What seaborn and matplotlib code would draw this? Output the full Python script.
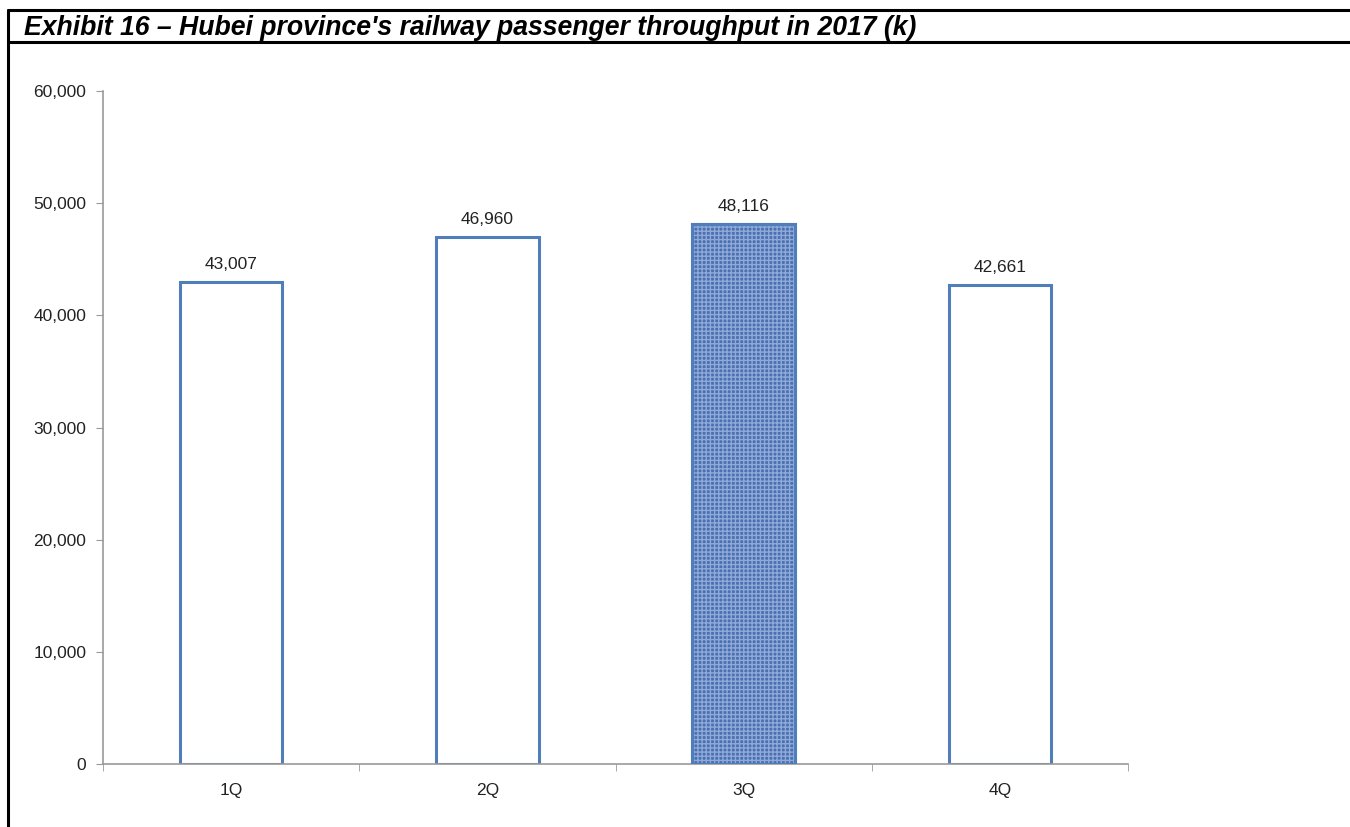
import matplotlib
matplotlib.use("Agg")
from matplotlib import pyplot as plt
from matplotlib.lines import Line2D
import seaborn as sns
import pandas as pd

# Data
quarters = ["1Q", "2Q", "3Q", "4Q"]
throughput = [43007, 46960, 48116, 42661]
highlight = "3Q"

sns.set_style("white")
plt.rcParams['font.family'] = ['Liberation Sans', 'DejaVu Sans']

df = pd.DataFrame({"quarter": quarters, "value": throughput})

fig = plt.figure(figsize=(13.5, 8.27), dpi=100)
ax = fig.add_axes([103 / 1350, 1 - 764 / 827, (1128 - 103) / 1350, (764 - 91) / 827])

blue = "#4F7EBA"
sns.barplot(data=df, x="quarter", y="value", ax=ax, width=0.4,
            color="white", edgecolor=blue, linewidth=2.2)

# textured fill on highlighted bar
hl = df[df["quarter"] == highlight]
ax.bar(quarters.index(highlight), hl["value"], width=0.4, color="#4A70B0",
       edgecolor="#8FA9D9", hatch="++++", linewidth=0, zorder=3)
ax.bar(quarters.index(highlight), hl["value"], width=0.4, fill=False,
       edgecolor=blue, linewidth=2.2, zorder=4)

for i, v in enumerate(throughput):
    ax.text(i, v + 900, f"{v:,}", ha="center", va="bottom", fontsize=12.5, color="#222222")

ax.set_ylim(0, 60000)
ax.set_xlim(-0.5, 3.5)
ax.set_yticks(range(0, 60001, 10000))
ax.set_yticklabels([f"{t:,}" for t in range(0, 60001, 10000)])
ax.set_xlabel("")
ax.set_ylabel("")

for s in ["top", "right"]:
    ax.spines[s].set_visible(False)
for s in ["left", "bottom"]:
    ax.spines[s].set_color("#999999")
    ax.spines[s].set_linewidth(1.2)

ax.tick_params(axis="y", left=True, length=5, color="#999999", labelsize=12.5,
               labelcolor="#222222", pad=7)
ax.tick_params(axis="x", bottom=False, labelsize=12.5, labelcolor="#222222", pad=10)
ax.set_xticks([-0.5, 0.5, 1.5, 2.5, 3.5], minor=True)
ax.tick_params(axis="x", which="minor", bottom=True, length=5, color="#999999")

# frame and title
fig.text(24 / 1350, 1 - 35 / 827, "Exhibit 16 \u2013 Hubei province's railway passenger throughput in 2017 (k)",
         fontsize=19.2, fontweight="bold", fontstyle="italic", va="baseline", ha="left",
         color="black")
lw = 2.2
fig.add_artist(Line2D([8 / 1350, 1], [1 - 10 / 827, 1 - 10 / 827], color="black", lw=lw))
fig.add_artist(Line2D([8 / 1350, 1], [1 - 42 / 827, 1 - 42 / 827], color="black", lw=lw))
fig.add_artist(Line2D([8 / 1350, 8 / 1350], [0, 1 - 10 / 827], color="black", lw=lw))

fig.savefig("out.png", dpi=100)
